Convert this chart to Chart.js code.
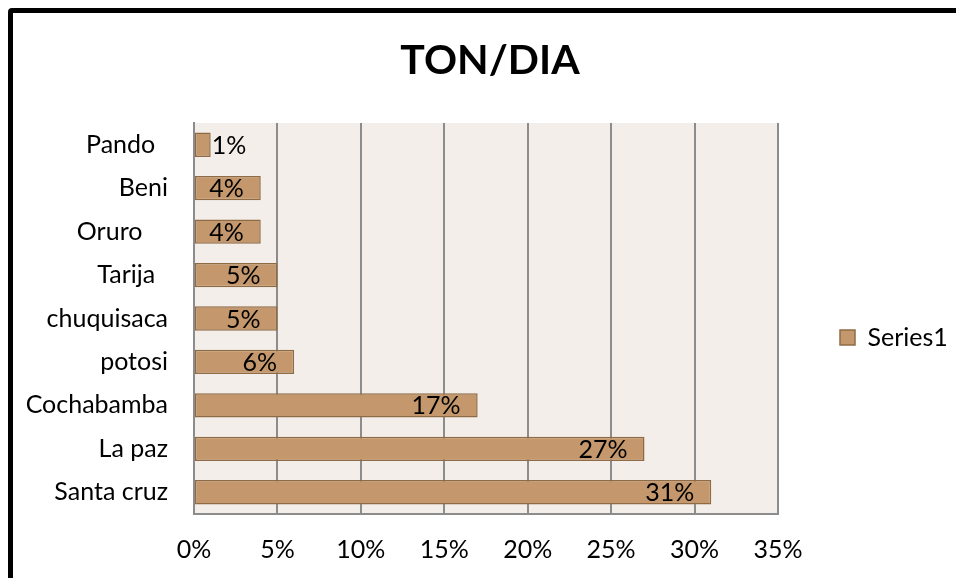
<!DOCTYPE html>
<html>
<head>
<meta charset="utf-8">
<script src="https://cdn.jsdelivr.net/npm/chart.js@4/dist/chart.umd.min.js"></script>
<style>
  html, body { margin: 0; padding: 0; background: #ffffff; overflow: hidden; }
  #wrap { position: relative; width: 956px; height: 578px; }
  #frame { position: absolute; left: 8px; top: 8px; width: 960px; height: 590px;
           border: 5px solid #000; border-radius: 4px; pointer-events: none; box-sizing: border-box; }
  canvas { position: absolute; left: 0; top: 0; }
</style>
</head>
<body>
<div id="wrap">
  <canvas id="c" width="956" height="578"></canvas>
  <div id="frame"></div>
</div>
<script>
const categories = ["Pando  ", "Beni", "Oruro    ", "Tarija  ", "chuquisaca", "potosi", "Cochabamba", "La paz", "Santa cruz"];
const series1 = [1, 4, 4, 5, 5, 6, 17, 27, 31];
const xTicks = [0, 5, 10, 15, 20, 25, 30, 35];
const chartTitle = "TON/DIA";
const seriesName = "Series1";

const FONT = "Lato";
const barFill = "#c4986c";
const barEdge = "#8e6b45";
const gridCol = "#8c8c8c";

const plotBg = {
  id: "plotBg",
  beforeDraw(chart) {
    const a = chart.chartArea, ctx = chart.ctx;
    ctx.save();
    ctx.fillStyle = "#f3eeea";
    ctx.fillRect(a.left, a.top, a.right - a.left, a.bottom - a.top);
    ctx.restore();
  }
};

const barLabels = {
  id: "barLabels",
  afterDatasetsDraw(chart) {
    const ctx = chart.ctx;
    const meta = chart.getDatasetMeta(0);
    ctx.save();
    ctx.font = "25px " + FONT;
    ctx.fillStyle = "#000";
    ctx.textBaseline = "middle";
    meta.data.forEach((el, i) => {
      const txt = chart.data.datasets[0].data[i] + "%";
      const w = ctx.measureText(txt).width;
      const barW = el.x - el.base;
      if (w + 17 > barW) {
        ctx.textAlign = "left";
        ctx.fillText(txt, el.x + 1, el.y + 1);
      } else {
        ctx.textAlign = "right";
        ctx.fillText(txt, el.x - 17, el.y + 1);
      }
    });
    ctx.restore();
  }
};

new Chart(document.getElementById("c"), {
  type: "bar",
  data: {
    labels: categories,
    datasets: [{
      label: seriesName,
      data: series1,
      backgroundColor: barFill,
      borderColor: barEdge,
      borderWidth: 1.5,
      borderSkipped: false,
      barPercentage: 0.56,
      categoryPercentage: 1.0
    }]
  },
  options: {
    indexAxis: "y",
    responsive: false,
    animation: false,
    layout: { padding: { left: 24, top: 0, right: 0, bottom: 0 } },
    plugins: {
      title: {
        display: true,
        text: chartTitle,
        color: "#000",
        font: { family: FONT, size: 41, weight: "bold", lineHeight: 1.2 },
        padding: { top: 36, bottom: 37.8 }
      },
      legend: {
        position: "right",
        maxWidth: 178,
        title: { display: true, text: " ", font: { size: 10, lineHeight: 1 }, padding: { top: 87, bottom: 0 } },
        labels: {
          color: "#000",
          font: { family: FONT, size: 25 },
          boxWidth: 15,
          boxHeight: 15,
          padding: 62
        }
      },
      tooltip: { enabled: false }
    },
    scales: {
      x: {
        min: 0,
        max: 35,
        afterFit(s) { s.height = 64; },
        afterBuildTicks(s) { s.ticks = xTicks.map(v => ({ value: v })); },
        ticks: {
          color: "#000",
          font: { family: FONT, size: 25, lineHeight: 1.2 },
          padding: 21,
          callback: v => v + "%"
        },
        grid: { color: gridCol, lineWidth: 2, drawTicks: false },
        border: { color: gridCol, width: 2 }
      },
      y: {
        afterFit(s) { s.width = 170; },
        ticks: {
          color: "#000",
          font: { family: FONT, size: 25 },
          padding: 26
        },
        grid: { display: false, drawTicks: false },
        border: { color: gridCol, width: 2 }
      }
    }
  },
  plugins: [plotBg, barLabels]
});
</script>
</body>
</html>
